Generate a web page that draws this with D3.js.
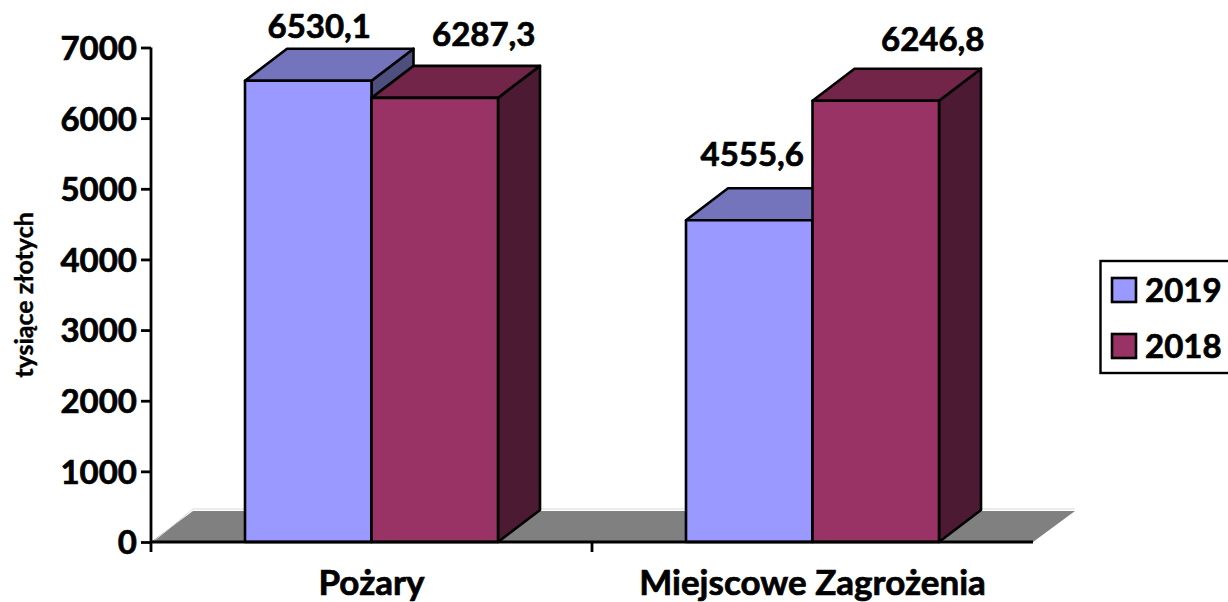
<!DOCTYPE html>
<html>
<head>
<meta charset="utf-8">
<script src="https://cdn.jsdelivr.net/npm/d3@7"></script>
<style>
  html, body { margin: 0; padding: 0; background: #fff; }
  svg { display: block; }
  text { font-family: Lato, "Open Sans", sans-serif; font-weight: 700; fill: #000; stroke: #000; stroke-width: 0.7px; }
</style>
</head>
<body>
<svg id="chart" width="1228" height="602"></svg>
<script>
const categories = ["Pożary", "Miejscowe Zagrożenia"];
const seriesNames = ["2019", "2018"];
const values2019 = [6530.1, 4555.6];
const values2018 = [6287.3, 6246.8];
const yTicks = [0, 1000, 2000, 3000, 4000, 5000, 6000, 7000];
const yTitle = "tysiące złotych";

const frontColors = ["#9999ff", "#993366"];
const topColors = ["#7474bd", "#722548"];
const sideColors = ["#4f4f7f", "#4d1a33"];

const svg = d3.select("#chart");

const plotLeft = 151, plotRight = 1033, plotBottom = 542, plotTop = 47.5;
const depthX = 42, depthY = 32;
const chartFont = 33;
const categoryFont = 35;

const x = d3.scaleBand().domain(categories).range([plotLeft, plotRight]);
const y = d3.scaleLinear().domain([0, 7000]).range([plotBottom, plotTop]);

// bars take a bit over half of each band
const barPad = (x.bandwidth() - 253) / 2;
const xBar = d3.scaleBand().domain(seriesNames).range([barPad, x.bandwidth() - barPad]);

// floor first, everything else sits on it
const floor = [[plotLeft, plotBottom], [plotLeft + depthX, plotBottom - depthY + 1], [plotRight + depthX, plotBottom - depthY + 1], [plotRight, plotBottom]];
svg.append("path")
  .attr("d", d3.line()(floor) + "Z")
  .attr("fill", "#808080");

// thin light edge along the back of the floor
svg.append("path")
  .attr("d", d3.line()([[plotLeft + 3, plotBottom - 1], [plotLeft + depthX, plotBottom - depthY - 1], [plotRight + depthX, plotBottom - depthY - 1]]))
  .attr("fill", "none")
  .attr("stroke", "#d8d8d8")
  .attr("stroke-width", 1);

function drawBar(x0, w, v, i) {
  const yv = y(v);
  const g = svg.append("g")
    .attr("stroke", "#000")
    .attr("stroke-width", 2.6)
    .attr("stroke-linejoin", "round");

  g.append("path")
    .attr("fill", sideColors[i])
    .attr("d", d3.line()([[x0 + w, yv], [x0 + w + depthX, yv - depthY], [x0 + w + depthX, plotBottom - depthY], [x0 + w, plotBottom]]) + "Z");

  g.append("path")
    .attr("fill", topColors[i])
    .attr("d", d3.line()([[x0, yv], [x0 + depthX, yv - depthY], [x0 + w + depthX, yv - depthY], [x0 + w, yv]]) + "Z");

  g.append("rect")
    .attr("x", x0)
    .attr("y", yv)
    .attr("width", w)
    .attr("height", plotBottom - yv)
    .attr("fill", frontColors[i]);
}

const seriesValues = [values2019, values2018];

categories.forEach((c, ci) => {
  seriesNames.forEach((s, si) => {
    drawBar(x(c) + xBar(s), xBar.bandwidth(), seriesValues[si][ci], si);
  });
});

// axes
const yAxis = d3.axisLeft(y).tickValues(yTicks).tickSize(10).tickPadding(4).tickFormat(d3.format("d"));
const yG = svg.append("g")
  .attr("transform", `translate(${plotLeft},0)`)
  .call(yAxis);
yG.selectAll("path, line").attr("stroke", "#000").attr("stroke-width", 2.8);
yG.select(".domain").attr("d", `M0,${plotTop}V${plotBottom}`);
yG.selectAll("text")
  .attr("font-family", null)
  .style("font-size", chartFont + "px")
  .attr("dy", "0.36em");

svg.append("line")
  .attr("x1", plotLeft).attr("x2", plotRight)
  .attr("y1", plotBottom).attr("y2", plotBottom)
  .attr("stroke", "#000").attr("stroke-width", 2.8);

// ticks sit on the band edges, the far end has none
svg.selectAll(".xtick")
  .data(categories)
  .join("line")
  .attr("class", "xtick")
  .attr("x1", d => x(d)).attr("x2", d => x(d))
  .attr("y1", plotBottom).attr("y2", plotBottom + 10)
  .attr("stroke", "#000").attr("stroke-width", 2.8);

svg.selectAll(".xlabel")
  .data(categories)
  .join("text")
  .attr("class", "xlabel")
  .attr("x", d => x(d) + x.bandwidth() / 2)
  .attr("y", 595)
  .attr("text-anchor", "middle")
  .style("font-size", categoryFont + "px")
  .text(d => d);

svg.append("text")
  .attr("transform", "translate(33,295) rotate(-90)")
  .attr("text-anchor", "middle")
  .style("font-size", "25px")
  .style("stroke-width", "0.4px")
  .text(yTitle);

// labels were hand placed in the original, so they need per-bar nudges
const labelNudgeX = [[-10, 28], [-18, 36]];
const labelNudgeY = [[-11, -20], [-22, -18]];

categories.forEach((c, ci) => {
  seriesNames.forEach((s, si) => {
    const v = seriesValues[si][ci];
    svg.append("text")
      .attr("x", x(c) + xBar(s) + xBar.bandwidth() / 2 + depthX / 2 + labelNudgeX[ci][si])
      .attr("y", y(v) - depthY + labelNudgeY[ci][si])
      .attr("text-anchor", "middle")
      .style("font-size", chartFont + "px")
      .text(d3.format(".1f")(v).replace(".", ","));
  });
});

// legend
const legend = svg.append("g");
legend.append("rect")
  .attr("x", 1100.5).attr("y", 261)
  .attr("width", 140).attr("height", 112)
  .attr("fill", "#fff").attr("stroke", "#000").attr("stroke-width", 2.4);

const legendY = d3.scalePoint().domain(seriesNames).range([290, 346]);
seriesNames.forEach((s, i) => {
  legend.append("rect")
    .attr("x", 1112).attr("y", legendY(s) - 12)
    .attr("width", 24).attr("height", 24)
    .attr("fill", frontColors[i])
    .attr("stroke", "#000").attr("stroke-width", 2.6);
  legend.append("text")
    .attr("x", 1145).attr("y", legendY(s) + 12)
    .style("font-size", chartFont + "px")
    .text(s);
});
</script>
</body>
</html>
